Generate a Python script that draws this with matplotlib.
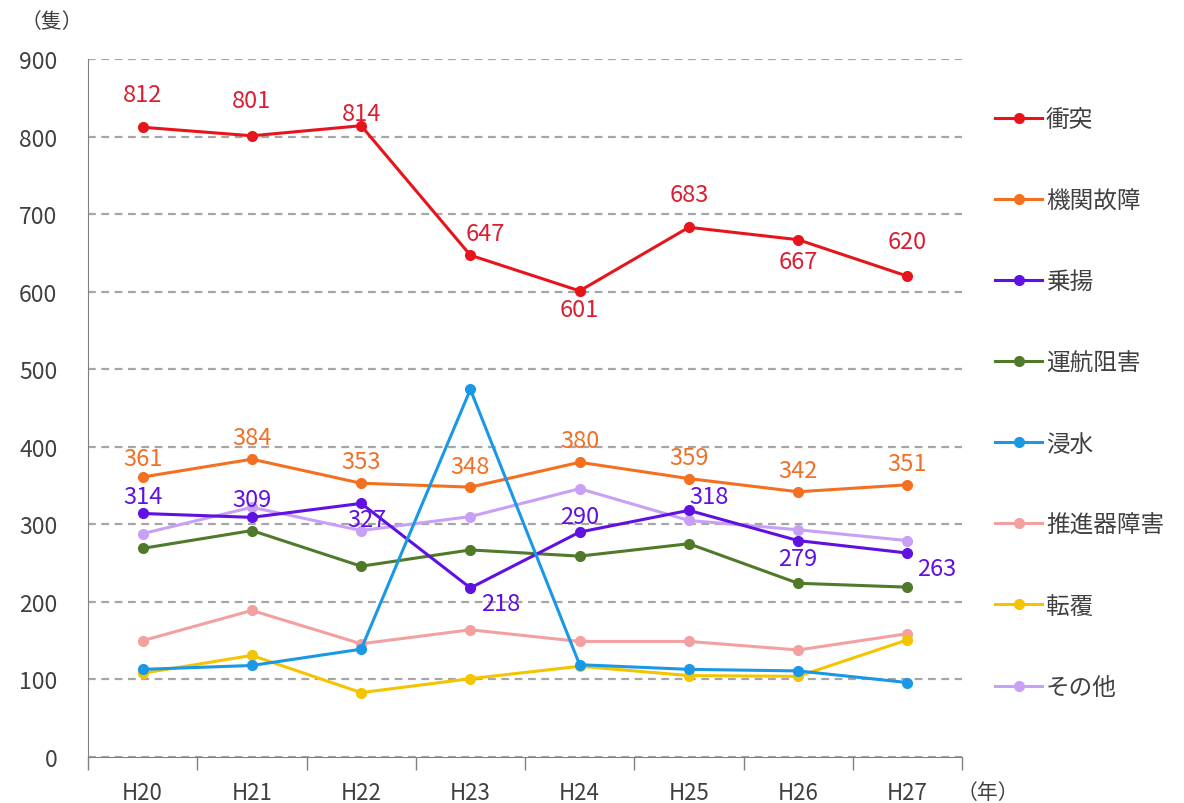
import matplotlib.pyplot as plt
import numpy as np

plt.rcParams['font.family'] = ['Noto Sans CJK JP', 'DejaVu Sans']

# Data (number of vessels by accident type, H20-H27)
years = ["H20", "H21", "H22", "H23", "H24", "H25", "H26", "H27"]
collision = [812, 801, 814, 647, 601, 683, 667, 620]
engine = [361, 384, 353, 348, 380, 359, 342, 351]
grounding = [314, 309, 327, 218, 290, 318, 279, 263]
obstruction = [269, 292, 246, 267, 259, 275, 224, 219]
flooding = [113, 118, 139, 474, 119, 113, 111, 96]
propeller = [150, 189, 146, 164, 149, 149, 138, 159]
capsize = [108, 131, 83, 101, 117, 105, 104, 151]
other = [288, 322, 292, 310, 346, 305, 293, 279]

names = ["衝突", "機関故障", "乗揚", "運航阻害", "浸水", "推進器障害", "転覆", "その他"]
colors = ["#e8141c", "#f47020", "#6010e0", "#4f7a2a", "#1a98e6", "#f4a0a0", "#f5c400", "#c8a0f5"]
label_colors = ["#dc1e32", "#f07028", "#6010e0"]
series = [collision, engine, grounding, obstruction, flooding, propeller, capsize, other]

# label offsets in pixels (dx, dy) for labelled series
red_off = [(0, 33), (0, 35), (0, 12), (15, 22), (0, -19), (0, 33), (0, -22), (0, 35)]
orange_off = [(0, 19), (0, 22), (0, 22), (0, 21), (0, 22), (0, 21), (0, 21), (0, 21)]
purple_off = [(0, 17), (0, 18), (6, -16), (30, -16), (0, 16), (20, 14), (0, -18), (29, -15)]

fig = plt.figure(figsize=(11.84, 8.04), dpi=100)
ax = fig.add_axes([88/1184, 46/804, (962-88)/1184, (758-60)/804])

x = np.arange(len(years))
zorders = [5, 4, 6, 3, 7, 2, 3, 4]
for vals, name, c, z in zip(series, names, colors, zorders):
    ax.plot(x, vals, color=c, lw=2.2, marker='o', ms=7, label=name, zorder=z)

for vals, offs, c in [(collision, red_off, label_colors[0]), (engine, orange_off, label_colors[1]),
                      (grounding, purple_off, label_colors[2])]:
    for xi, v, (dx, dy) in zip(x, vals, offs):
        ax.annotate(str(v), (xi, v), xytext=(dx, dy), textcoords='offset pixels',
                    ha='center', va='center', color=c, fontsize=17, zorder=10)

ax.set_xlim(-0.5, len(years) - 0.5)
ax.set_ylim(0, 900)
ax.set_yticks(range(0, 901, 100))
ax.set_xticks(x)
ax.set_xticklabels(years)
ax.set_xticks(np.arange(-0.5, len(years), 1.0), minor=True)
ax.tick_params(axis='x', which='major', length=0, pad=17, labelsize=16, labelcolor='#404040')
ax.tick_params(axis='x', which='minor', length=9, color='#808080', width=1)
ax.tick_params(axis='y', length=0, pad=22, labelsize=16.5, labelcolor='#404040')

ax.grid(axis='y', color='#a6a6a6', linestyle=(0, (3.5, 2.5)), lw=1.6)
ax.set_axisbelow(True)
for s in ['top', 'right']:
    ax.spines[s].set_visible(False)
ax.spines['left'].set_color('#808080')
ax.spines['bottom'].set_color('#808080')

fig.text(52/1184, 1 - 22/804, "（隻）", ha='center', va='center', fontsize=15, color='#404040')
fig.text(988/1184, 1 - 793/804, "（年）", ha='center', va='center', fontsize=15, color='#404040')

leg = ax.legend(loc='upper left', bbox_to_anchor=(974/1184, 1 - 88/804), bbox_transform=fig.transFigure,
                frameon=False, fontsize=17, labelspacing=2.46, handlelength=2.0, handletextpad=0.15)
for t in leg.get_texts():
    t.set_color('#404040')

plt.savefig('out.png', dpi=100)
